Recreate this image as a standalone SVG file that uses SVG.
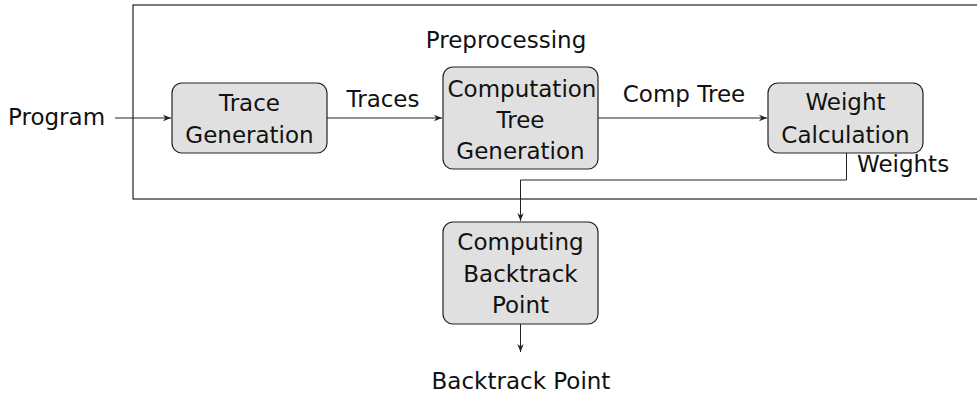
<svg xmlns="http://www.w3.org/2000/svg" width="977" height="393" viewBox="0 0 977 393">
<style>
text{font-family:"DejaVu Sans",sans-serif;font-size:23px;fill:#111}
.m{text-anchor:middle}
.box{fill:#e0e0e0;stroke:#222;stroke-width:1.2}
.c{fill:none;stroke:#222;stroke-width:1}
</style>
<defs>
<marker id="ar" viewBox="0 0 10 10" refX="10" refY="5" markerWidth="8" markerHeight="8" markerUnits="userSpaceOnUse" orient="auto">
<path d="M0,1 L10,5 L0,9 L3,5 Z" fill="#222"/>
</marker>
</defs>
<rect id="frame" x="133" y="5" width="900" height="194" fill="none" stroke="#222" stroke-width="1.2"/>
<text x="506" y="48" class="m">Preprocessing</text>
<g id="connectors">
<path class="c" d="M115,118 H171" marker-end="url(#ar)"/>
<path class="c" d="M327,118 H442" marker-end="url(#ar)"/>
<path class="c" d="M598,118 H767" marker-end="url(#ar)"/>
<path class="c" d="M846.5,153 V180 H520.5 V221" marker-end="url(#ar)"/>
<path class="c" d="M520.5,324 V352" marker-end="url(#ar)"/>
<text x="8" y="125">Program</text>
<text x="383" y="107" class="m">Traces</text>
<text x="684" y="102" class="m">Comp Tree</text>
<text x="857" y="172">Weights</text>
<text x="521" y="389" class="m">Backtrack Point</text>
</g>
<g id="trace">
<rect class="box" x="172" y="83" width="155" height="70" rx="10"/>
<text x="249.5" y="111" class="m">Trace</text>
<text x="249.5" y="143" class="m">Generation</text>
</g>
<g id="comptree">
<rect class="box" x="443" y="67" width="155" height="102" rx="10"/>
<text x="522" y="97" class="m">Computation</text>
<text x="520.5" y="128" class="m">Tree</text>
<text x="520.5" y="159" class="m">Generation</text>
</g>
<g id="weight">
<rect class="box" x="768" y="83" width="155" height="70" rx="10"/>
<text x="845.5" y="110" class="m">Weight</text>
<text x="845.5" y="143" class="m">Calculation</text>
</g>
<g id="backtrack">
<rect class="box" x="443" y="222" width="155" height="102" rx="10"/>
<text x="520.5" y="250" class="m">Computing</text>
<text x="520.5" y="282" class="m">Backtrack</text>
<text x="520.5" y="313" class="m">Point</text>
</g>
</svg>
